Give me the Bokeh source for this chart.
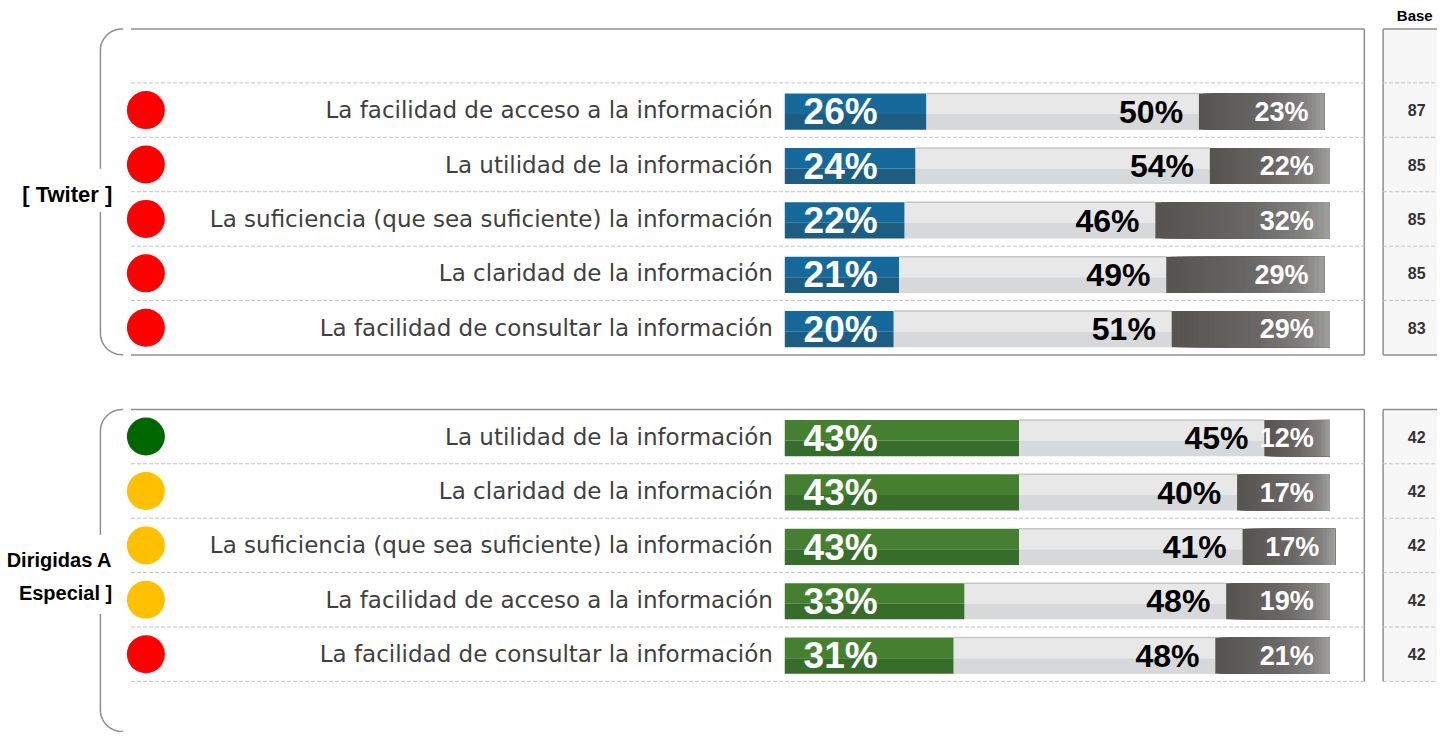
import math
from bokeh.plotting import figure
from bokeh.models import Range1d, ColumnDataSource
from bokeh.core.properties import value
from bokeh.embed import file_html
from bokeh.resources import INLINE

# ---------------- data ----------------
tw_items = ["La facilidad de acceso a la información",
            "La utilidad de la información",
            "La suficiencia (que sea suficiente) la información",
            "La claridad de la información",
            "La facilidad de consultar la información"]
tw_pos = [26, 24, 22, 21, 20]
tw_mid = [50, 54, 46, 49, 51]
tw_neg = [23, 22, 32, 29, 29]
tw_base = [87, 85, 85, 85, 83]
tw_status = ["red", "red", "red", "red", "red"]

pe_items = ["La utilidad de la información",
            "La claridad de la información",
            "La suficiencia (que sea suficiente) la información",
            "La facilidad de acceso a la información",
            "La facilidad de consultar la información"]
pe_pos = [43, 43, 43, 33, 31]
pe_mid = [45, 40, 41, 48, 48]
pe_neg = [12, 17, 17, 19, 21]
pe_base = [42, 42, 42, 42, 42]
pe_status = ["green", "yellow", "yellow", "yellow", "red"]

group_titles = [["[ Twiter ]"], ["Dirigidas A", "Especial ]"]]
base_title = "Base"

# ---------------- layout (reference-pixel helpers) ----------------
PX_PER_PCT = 5.51
X_ZERO = 793.0
ROW_PX = 55.6
Y_ZERO = 112.0


def X(px):
    return (px - X_ZERO) / PX_PER_PCT


def Y(py):
    return (py - Y_ZERO) / ROW_PX


STATUS_COLORS = {"red": "#ff0000", "green": "#006600", "yellow": "#ffc000"}
LABEL_FONT = value("DejaVu Sans")
TITLE_FONT = value("Liberation Sans")
NUM_FONT = value("Liberation Sans")

p = figure(width=1437, height=732, output_backend="svg", toolbar_location=None,
           x_range=Range1d(X(0), X(1453)), y_range=Range1d(Y(748), Y(0)),
           min_border=0)
p.axis.visible = False
p.grid.visible = False
p.outline_line_color = None
p.background_fill_color = "white"
p.border_fill_color = "white"

BORDER = "#8f8f8f"
DASH = "#c4c4c4"

panels = [
    dict(items=tw_items, pos=tw_pos, mid=tw_mid, neg=tw_neg, base=tw_base,
         status=tw_status, first_row=0, pos_top="#156a9b", pos_bot="#1d5d82",
         title=group_titles[0], title_y=[198], title_size="22px", gap=(172, 216),
         top=29, bottom=362, closed=True),
    dict(items=pe_items, pos=pe_pos, mid=pe_mid, neg=pe_neg, base=pe_base,
         status=pe_status, first_row=6, pos_top="#44802f", pos_bot="#366d2a",
         title=group_titles[1], title_y=[572, 605], title_size="20px", gap=(546, 627),
         top=418, bottom=747, closed=False),
]


def arc(cx, cy, r, a0, a1, n=14):
    pts = []
    for i in range(n + 1):
        a = math.radians(a0 + (a1 - a0) * i / n)
        pts.append((cx + r * math.cos(a), cy + r * math.sin(a)))
    return pts


def gradient_color(t):
    stops = [(0.0, (0x55, 0x53, 0x50)), (0.55, (0x6a, 0x68, 0x66)),
             (0.85, (0x82, 0x81, 0x7f)), (1.0, (0x9f, 0x9f, 0x9d))]
    for (t0, c0), (t1, c1) in zip(stops[:-1], stops[1:]):
        if t <= t1:
            f = (t - t0) / (t1 - t0) if t1 > t0 else 0
            return "#%02x%02x%02x" % tuple(int(round(a + (b - a) * f)) for a, b in zip(c0, c1))
    return "#9f9f9d"


BAR_TOP = Y(95) - Y(112)
BAR_SPLIT = Y(116) - Y(112)
BAR_BOT = Y(132) - Y(112)
N_SLICES = 30

for pn in panels:
    n = len(pn["items"])
    rows = [pn["first_row"] + i for i in range(n)]
    last_row = rows[-1]

    # base box
    bx_top = Y(pn["top"])
    bx_bot = last_row + 0.5
    p.quad(left=X(1398), right=X(1480), top=bx_top, bottom=bx_bot,
           fill_color="#f7f7f7", line_color=None)
    p.multi_line(xs=[[X(1398), X(1398)], [X(1398), X(1480)]],
                 ys=[[bx_top, bx_bot], [bx_top, bx_top]], line_color=BORDER, line_width=1.5)

    # panel box lines
    xl, xr = X(132), X(1379)
    p.line([xl, xr], [bx_top, bx_top], line_color=BORDER, line_width=1.5)
    p.line([xr, xr], [bx_top, last_row + 0.5], line_color=BORDER, line_width=1.5)
    if pn["closed"]:
        p.line([xl, xr], [last_row + 0.5, last_row + 0.5], line_color=BORDER, line_width=1.5)
        p.line([X(1398), X(1480)], [last_row + 0.5, last_row + 0.5], line_color=BORDER, line_width=1.5)

    # bracket
    t = pn["top"]
    b = pn["bottom"]
    g0, g1 = pn["gap"]
    path1 = [(124, t)] + arc(123, t + 22, 22, 270, 180) + [(101, g0)]
    path2 = [(101, g1), (101, b - 22)] + arc(123, b - 22, 22, 180, 90) + [(124, b)]
    for path in (path1, path2):
        p.line([X(a) for a, _ in path], [Y(c) for _, c in path], line_color=BORDER, line_width=1.5)

    # dashed row separators
    seps = [r - 0.5 for r in rows[1:]] + ([] if pn["closed"] else [last_row + 0.5])
    if pn["first_row"] == 0:
        seps = [rows[0] - 0.5] + seps
    for s in seps:
        p.line([xl, xr], [s, s], line_color=DASH, line_dash="4 2", line_width=1)
        p.line([X(1398), X(1480)], [s, s], line_color=DASH, line_dash="4 2", line_width=1)

    # bars
    src = ColumnDataSource(dict(
        row=rows, pos=pn["pos"],
        mid_l=pn["pos"], mid_r=[a + b for a, b in zip(pn["pos"], pn["mid"])],
        tot=[a + b + c for a, b, c in zip(pn["pos"], pn["mid"], pn["neg"])],
        top=[r + BAR_TOP for r in rows], split=[r + BAR_SPLIT for r in rows],
        bot=[r + BAR_BOT for r in rows],
    ))
    p.quad(left=0, right="pos", top="top", bottom="split", source=src,
           fill_color=pn["pos_top"], line_color=None)
    p.quad(left=0, right="pos", top="split", bottom="bot", source=src,
           fill_color=pn["pos_bot"], line_color=None)
    p.quad(left="mid_l", right="mid_r", top="top", bottom="split", source=src,
           fill_color="#e9e8e9", line_color=None)
    p.quad(left="mid_l", right="mid_r", top="split", bottom="bot", source=src,
           fill_color="#d7d8da", line_color=None)
    p.segment(x0="mid_l", x1="mid_r", y0="top", y1="top", source=src,
              line_color="#c6c6c6", line_width=1.5)

    # dark segment with a horizontal gradient (overlapping slices, no seams)
    gl, gr, gt, gb, gc = [], [], [], [], []
    for r, a, bb in zip(rows, src.data["mid_r"], src.data["tot"]):
        w = (bb - a) / N_SLICES
        for k in range(N_SLICES):
            gl.append(a + k * w)
            gr.append(bb)
            gt.append(r + BAR_TOP)
            gb.append(r + BAR_BOT)
            gc.append(gradient_color((k + 0.5) / N_SLICES))
    p.quad(left=gl, right=gr, top=gt, bottom=gb, fill_color=gc, line_color=None)

    # value labels
    off = 16 / PX_PER_PCT
    lab = ColumnDataSource(dict(
        y=[r + 0.03 for r in rows],
        pos_x=[19 / PX_PER_PCT] * n, pos_t=["%d%%" % v for v in pn["pos"]],
        mid_x=[v - off for v in src.data["mid_r"]], mid_t=["%d%%" % v for v in pn["mid"]],
        neg_x=[v - off for v in src.data["tot"]], neg_t=["%d%%" % v for v in pn["neg"]],
    ))
    p.text(x="pos_x", y="y", text="pos_t", source=lab, text_color="white",
           text_font=NUM_FONT, text_font_style="bold", text_font_size="37px",
           text_align="left", text_baseline="middle")
    p.text(x="mid_x", y="y", text="mid_t", source=lab, text_color="black",
           text_font=NUM_FONT, text_font_style="bold", text_font_size="32px",
           text_align="right", text_baseline="middle")
    p.text(x="neg_x", y="y", text="neg_t", source=lab, text_color="white",
           text_font=NUM_FONT, text_font_style="bold", text_font_size="27px",
           text_align="right", text_baseline="middle")

    info = ColumnDataSource(dict(
        row=rows, item=pn["items"], item_x=[X(781)] * n,
        base=[str(v) for v in pn["base"]], base_x=[X(1432)] * n,
        dot_x=[X(147)] * n, dot_c=[STATUS_COLORS[s] for s in pn["status"]],
    ))
    p.text(x="item_x", y="row", text="item", source=info,
           text_color="#404040", text_font=LABEL_FONT, text_font_size="23px",
           text_align="right", text_baseline="middle")
    p.text(x="base_x", y="row", text="base", source=info,
           text_color="#333333", text_font=NUM_FONT, text_font_style="bold",
           text_font_size="16px", text_align="center", text_baseline="middle")
    p.scatter(x="dot_x", y="row", source=info, size=38, marker="circle",
              fill_color="dot_c", line_color=None)

    # group title
    p.text(x=[X(113)] * len(pn["title"]), y=[Y(v) for v in pn["title_y"]],
           text=pn["title"], text_color="black", text_font=TITLE_FONT,
           text_font_style="bold", text_font_size=pn["title_size"], text_align="right",
           text_baseline="middle")

p.text(x=[X(1430)], y=[Y(15)], text=[base_title], text_color="black",
       text_font=TITLE_FONT, text_font_style="bold", text_font_size="15px",
       text_align="center", text_baseline="middle")

open("out.html", "w").write(file_html(p, INLINE))
